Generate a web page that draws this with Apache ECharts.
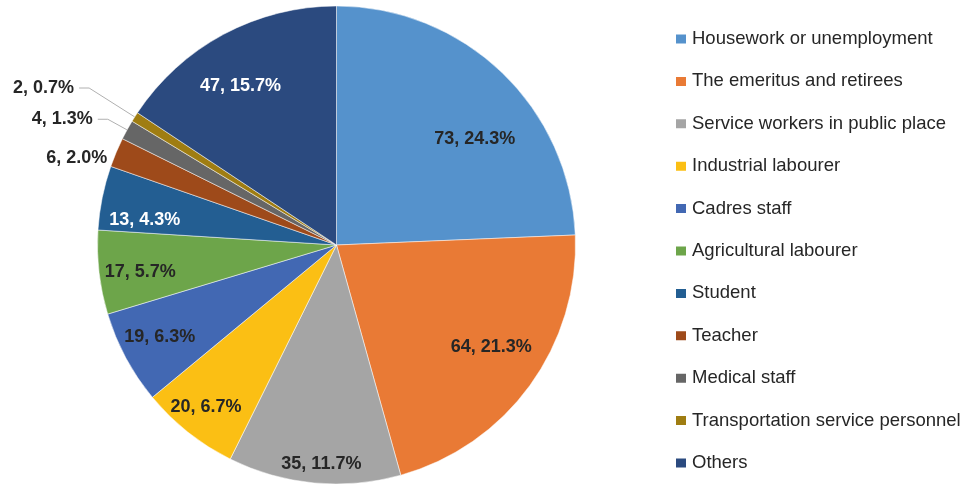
<!DOCTYPE html>
<html>
<head>
<meta charset="utf-8">
<script src="https://cdn.jsdelivr.net/npm/echarts@6/dist/echarts.min.js"></script>
<style>
  html, body { margin: 0; padding: 0; background: #fff; }
  #chart { width: 964px; height: 487px; }
</style>
</head>
<body>
<div id="chart"></div>
<script>
const categories = [
  'Housework or unemployment',
  'The emeritus and retirees',
  'Service workers in public place',
  'Industrial labourer',
  'Cadres staff',
  'Agricultural labourer',
  'Student',
  'Teacher',
  'Medical staff',
  'Transportation service personnel',
  'Others'
]
const counts = [73, 64, 35, 20, 19, 17, 13, 6, 4, 2, 47]
const colors = ['#5592cc', '#e97a35', '#a5a5a5', '#fbbf14', '#4268b3', '#6da54a',
  '#235e92', '#9e4a1a', '#666666', '#9f7d12', '#2b4a7f']
// slices with white text / labels drawn outside the pie
const whiteText = ['Student', 'Others']
const outsideLabels = {
  'Teacher': { length: 2, length2: 3, show: false },
  'Medical staff': { length: 22, length2: 10, show: true },
  'Transportation service personnel': { length: 54, length2: 10, show: true }
}
// small nudges of the labels (best-fit placement in the original)
const labelNudge = {
  'Housework or unemployment': [5, 33],
  'The emeritus and retirees': [-1, -11],
  'Service workers in public place': [3, 27],
  'Industrial labourer': [-11, 11],
  'Cadres staff': [-7, 1],
  'Agricultural labourer': [-5, 5],
  'Student': [-3, 13],
  'Teacher': [1, 6],
  'Others': [-5, 11]
}

const center = [336.5, 245]
const radius = 239

const chart = echarts.init(document.getElementById('chart'))

const pieData = categories.map((name, i) => ({
  name,
  value: counts[i],
  itemStyle: { color: colors[i] }
}))

// transparent ring, only used to place the labels further out than 'inside'
const labelData = categories.map((name, i) => {
  const item = {
    name,
    value: counts[i],
    itemStyle: { color: 'rgba(0,0,0,0)' },
    label: { color: whiteText.includes(name) ? '#ffffff' : '#262626' }
  }
  if (labelNudge[name]) item.label.offset = labelNudge[name]
  if (outsideLabels[name]) {
    const o = outsideLabels[name]
    item.label.position = 'outside'
    item.labelLine = {
      show: o.show,
      length: o.length,
      length2: o.length2,
      lineStyle: { color: '#b0b0b0', width: 1 }
    }
  }
  return item
})

chart.setOption({
  animation: false,
  legend: {
    orient: 'vertical',
    left: 669,
    top: 24,
    icon: 'rect',
    itemWidth: 12,
    itemHeight: 11,
    itemGap: 22.4,
    textStyle: {
      fontFamily: 'Liberation Sans, Arial, sans-serif',
      fontSize: 18.5,
      lineHeight: 20,
      color: '#262626'
    },
    data: categories
  },
  series: [
    {
      type: 'pie',
      center,
      radius: [0, radius],
      startAngle: 90,
      clockwise: true,
      silent: true,
      label: { show: false },
      labelLine: { show: false },
      itemStyle: { borderColor: '#ffffff', borderWidth: 0.5 },
      data: pieData
    },
    {
      type: 'pie',
      center,
      radius: [140, radius],
      startAngle: 90,
      clockwise: true,
      silent: true,
      legendHoverLink: false,
      avoidLabelOverlap: true,
      label: {
        show: true,
        position: 'inside',
        fontFamily: 'Liberation Sans, Arial, sans-serif',
        fontSize: 18,
        fontWeight: 'bold',
        formatter: p => p.value + ', ' + p.percent.toFixed(1) + '%'
      },
      data: labelData
    }
  ]
})
</script>
</body>
</html>
